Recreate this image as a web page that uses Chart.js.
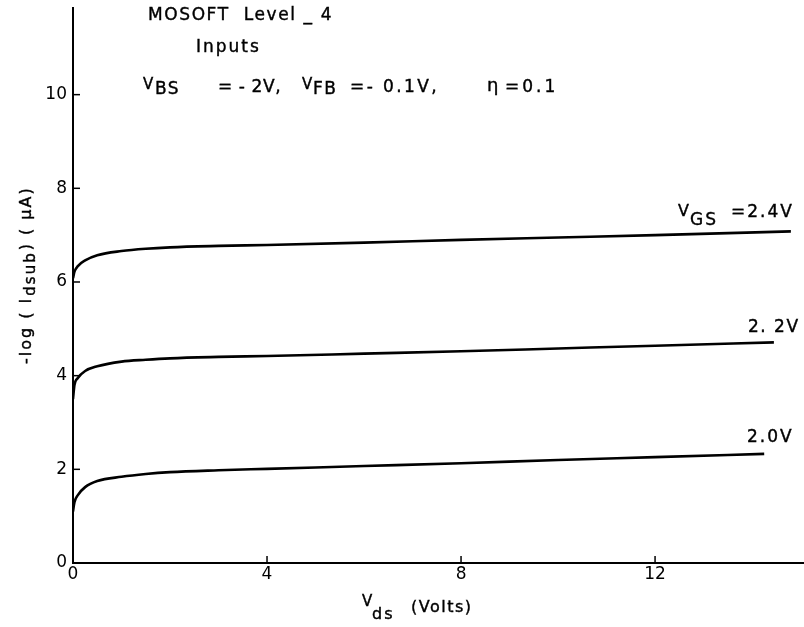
<!DOCTYPE html>
<html>
<head>
<meta charset="utf-8">
<script src="https://cdn.jsdelivr.net/npm/chart.js@4.4.1/dist/chart.umd.min.js"></script>
<style>
  body { margin: 0; background: #fff; }
  #wrap { width: 804px; height: 627px; }
</style>
</head>
<body>
<div id="wrap"><canvas id="mosoft" width="804" height="627"></canvas></div>
<script>
// Eixo X (Vds, volts) e valores
const vds24 = [0, 0.03, 0.1, 0.25, 0.5, 1, 1.5, 2, 3, 4, 6, 8, 10, 12, 14.8]
const idsub24 = [6.08, 6.22, 6.34, 6.46, 6.57, 6.66, 6.71, 6.74, 6.77, 6.79, 6.84, 6.9, 6.95, 7.0, 7.08]

const vds22 = [0, 0.03, 0.1, 0.25, 0.5, 1, 1.5, 2, 3, 4, 6, 8, 10, 12, 14.45]
const idsub22 = [3.5, 3.8, 3.95, 4.1, 4.2, 4.3, 4.34, 4.37, 4.4, 4.42, 4.47, 4.52, 4.58, 4.64, 4.71]

const vds20 = [0, 0.03, 0.1, 0.25, 0.5, 1, 1.5, 2, 3, 4, 6, 8, 10, 12, 14.25]
const idsub20 = [1.1, 1.3, 1.45, 1.62, 1.75, 1.84, 1.9, 1.94, 1.98, 2.01, 2.07, 2.13, 2.2, 2.26, 2.33]

// ticks dos eixos
const xTicks = [0, 4, 8, 12]
const yTicks = [0, 2, 4, 6, 8, 10]

const ink = '#000'
const font = '"DejaVu Sans", sans-serif'

function pts(xs, ys) {
  return xs.map((x, i) => ({ x: x, y: ys[i] }))
}

function curve(label, xs, ys) {
  return {
    label: label,
    data: pts(xs, ys),
    borderColor: ink,
    borderWidth: 2.6,
    pointRadius: 0,
    cubicInterpolationMode: 'monotone',
    fill: false
  }
}

// escreve um texto com tamanho e espaçamento (traço fino p/ engrossar)
function txt(ctx, s, x, y, size, sp) {
  ctx.font = size + 'px ' + font
  ctx.letterSpacing = (sp || 0) + 'px'
  ctx.fillText(s, x, y)
  ctx.strokeText(s, x, y)
  return x + ctx.measureText(s).width
}

// ticks para dentro + textos anotados
const extras = {
  id: 'extras',
  afterDraw(chart) {
    const ctx = chart.ctx
    const xs = chart.scales.x
    const ys = chart.scales.y
    const area = chart.chartArea
    ctx.save()
    ctx.strokeStyle = ink
    ctx.lineWidth = 1.5
    xTicks.forEach(v => {
      const px = xs.getPixelForValue(v)
      ctx.beginPath(); ctx.moveTo(px, area.bottom); ctx.lineTo(px, area.bottom - 7); ctx.stroke()
    })
    yTicks.forEach(v => {
      const py = ys.getPixelForValue(v)
      ctx.beginPath(); ctx.moveTo(area.left, py); ctx.lineTo(area.left + 7, py); ctx.stroke()
    })

    ctx.fillStyle = ink
    ctx.lineWidth = 0.4
    ctx.textBaseline = 'alphabetic'
    ctx.textAlign = 'left'
    // cabeçalho
    txt(ctx, 'MOSOFT  Level _ 4', 148, 20, 17, 1.6)
    txt(ctx, 'Inputs', 196, 52, 17, 2)
    txt(ctx, 'V', 143, 89, 15, 0)
    txt(ctx, 'BS', 155, 94, 17, 1.5)
    txt(ctx, '= - 2V,', 218, 92, 17, 0.6)
    txt(ctx, 'V', 302, 89, 15, 0)
    txt(ctx, 'FB', 313, 94, 17, 1.5)
    txt(ctx, '=- 0.1V,', 350, 92, 17, 2.4)
    txt(ctx, '\u03b7', 487, 91, 18, 0)
    txt(ctx, '=0.1', 505, 92, 17, 3)

    // rótulos das curvas
    txt(ctx, 'V', 678, 216, 16, 0)
    txt(ctx, 'GS', 690, 225, 17, 2)
    txt(ctx, '=2.4V', 731, 217, 17, 2)
    txt(ctx, '2. 2V', 748, 332, 17, 1.5)
    txt(ctx, '2.0V', 747, 442, 17, 2)

    // título eixo X
    txt(ctx, 'V', 362, 606, 15, 0)
    txt(ctx, 'ds', 372, 619, 16, 2)
    txt(ctx, '(Volts)', 411, 612, 16, 1.5)

    // título eixo Y (rotacionado)
    ctx.translate(31, 364)
    ctx.rotate(-Math.PI / 2)
    let cx = txt(ctx, '-log ( I', 0, 0, 16, 2)
    cx = txt(ctx, 'dsub', cx + 1, 4, 15, 2)
    txt(ctx, ') ( \u03bcA)', cx + 1, 0, 16, 2)
    ctx.restore()
  }
}

const data = {
  datasets: [
    curve('VGS = 2.4V', vds24, idsub24),
    curve('2.2V', vds22, idsub22),
    curve('2.0V', vds20, idsub20)
  ]
}

const config = {
  type: 'line',
  data: data,
  options: {
    responsive: false,
    animation: false,
    layout: { padding: { top: 8, right: 1, bottom: 0, left: 0 } },
    plugins: { legend: { display: false }, tooltip: { enabled: false } },
    scales: {
      x: {
        type: 'linear',
        min: 0,
        max: 15.05,
        afterBuildTicks: s => { s.ticks = xTicks.map(v => ({ value: v })) },
        afterFit: s => { s.height = 64; s.paddingLeft = 0; s.paddingRight = 0 },
        grid: { drawOnChartArea: false, drawTicks: false },
        border: { display: true, color: ink, width: 2 },
        ticks: { color: ink, padding: 1, font: { size: 17, family: font }, maxRotation: 0 }
      },
      y: {
        type: 'linear',
        min: 0,
        max: 11.85,
        afterBuildTicks: s => { s.ticks = yTicks.map(v => ({ value: v })) },
        afterFit: s => { s.width = 73; s.paddingTop = 0; s.paddingBottom = 0 },
        grid: { drawOnChartArea: false, drawTicks: false },
        border: { display: true, color: ink, width: 2 },
        ticks: { color: ink, padding: 6, font: { size: 17, family: font } }
      }
    }
  },
  plugins: [extras]
}

const grafico = new Chart(document.getElementById('mosoft'), config)
</script>
</body>
</html>
